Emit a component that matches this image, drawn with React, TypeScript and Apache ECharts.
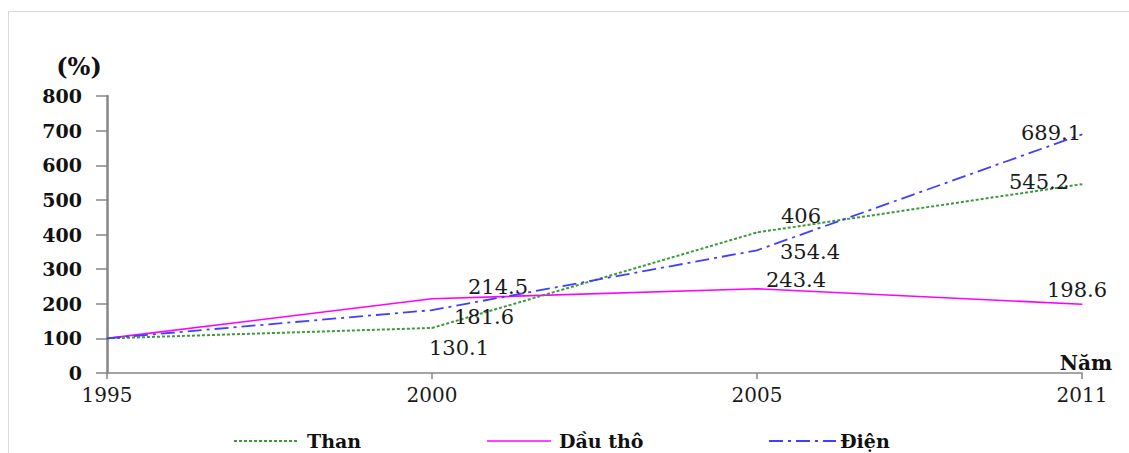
import React, { useEffect, useRef } from "react";
import * as echarts from "echarts";

const years = ["1995", "2000", "2005", "2011"];
const than = [100, 130.1, 406, 545.2];
const dauTho = [100, 214.5, 243.4, 198.6];
const dien = [100, 181.6, 354.4, 689.1];
const yTicks = { min: 0, max: 800, interval: 100 };

// label offsets (layout only)
const thanOffsets = [null, [27, 20], [44, -16], [-43, -2]];
const dauThoOffsets = [null, [66, -12], [39, -9], [-5, -14]];
const dienOffsets = [null, [52, 7], [53, 2], [-31, -1]];

const FONT = "'DejaVu Serif', 'Liberation Serif', serif";

function buildData(values: number[], offsets: (number[] | null)[]) {
  return values.map((v, i) => {
    const off = offsets[i];
    if (!off) return { value: v, label: { show: false } };
    return {
      value: v,
      label: {
        show: true,
        position: "inside",
        offset: off,
        fontFamily: FONT,
        fontSize: 21,
        color: "#1a1a1a",
        formatter: String(v),
      },
    };
  });
}

export default function App() {
  const ref = useRef<HTMLDivElement>(null);
  useEffect(() => {
    if (!ref.current) return;
    const chart = echarts.init(ref.current, undefined, { renderer: "svg" });
    const green = "#3c9a3c";
    const pink = "#ff00ff";
    const blue = "#3f3fff";
    const legendY = 441;
    const legendText = (x: number, t: string) => ({
      type: "text",
      x,
      y: legendY,
      style: {
        text: t,
        fontFamily: FONT,
        fontWeight: "bold",
        fontSize: 19,
        fill: "#111",
        textAlign: "left",
        textVerticalAlign: "middle",
      },
    });
    chart.setOption({
      animation: false,
      backgroundColor: "#ffffff",
      grid: { left: 107, right: 47, top: 96, bottom: 80, containLabel: false },
      xAxis: {
        type: "category",
        data: years,
        boundaryGap: false,
        axisLine: { lineStyle: { color: "#868686", width: 1.5 } },
        axisTick: { show: true, length: 6, lineStyle: { color: "#868686", width: 1.5 } },
        axisLabel: {
          margin: 12,
          fontFamily: FONT,
          fontSize: 20,
          color: "#1a1a1a",
        },
        splitLine: { show: false },
      },
      yAxis: {
        type: "value",
        min: yTicks.min,
        max: yTicks.max,
        interval: yTicks.interval,
        axisLine: { show: true, lineStyle: { color: "#868686", width: 2.5 } },
        axisTick: { show: true, length: 11, lineStyle: { color: "#868686", width: 1.5 } },
        axisLabel: {
          margin: 25,
          fontFamily: FONT,
          fontWeight: "bold",
          fontSize: 19,
          color: "#111",
        },
        splitLine: { show: false },
      },
      series: [
        {
          name: "Than",
          type: "line",
          data: buildData(than, thanOffsets),
          smooth: false,
          symbol: "circle",
          symbolSize: 1,
          itemStyle: { color: green },
          lineStyle: { color: green, width: 2, type: [3, 2] },
          z: 3,
        },
        {
          name: "Dầu thô",
          type: "line",
          data: buildData(dauTho, dauThoOffsets),
          smooth: false,
          symbol: "circle",
          symbolSize: 1,
          itemStyle: { color: pink },
          lineStyle: { color: pink, width: 1.6, type: "solid" },
          z: 2,
        },
        {
          name: "Điện",
          type: "line",
          data: buildData(dien, dienOffsets),
          smooth: false,
          symbol: "circle",
          symbolSize: 1,
          itemStyle: { color: blue },
          lineStyle: { color: blue, width: 1.8, type: [14, 5, 3, 5] },
          z: 4,
        },
      ],
      graphic: [
        {
          type: "rect",
          shape: { x: 8.5, y: 11.5, width: 1200, height: 600 },
          style: { fill: "none", stroke: "#d9d9d9", lineWidth: 1 },
          silent: true,
          z: -10,
        },
        {
          type: "text",
          x: 79,
          y: 66,
          style: {
            text: "(%)",
            fontFamily: FONT,
            fontWeight: "bold",
            fontSize: 24,
            fill: "#111",
            textAlign: "center",
            textVerticalAlign: "middle",
          },
        },
        {
          type: "text",
          x: 1086,
          y: 363,
          style: {
            text: "Năm",
            fontFamily: FONT,
            fontWeight: "bold",
            fontSize: 20,
            fill: "#111",
            textAlign: "center",
            textVerticalAlign: "middle",
          },
        },
        {
          type: "line",
          shape: { x1: 234, y1: legendY, x2: 299, y2: legendY },
          style: { stroke: green, lineWidth: 2, lineDash: [3, 2] },
        },
        legendText(307, "Than"),
        {
          type: "line",
          shape: { x1: 487, y1: legendY, x2: 551, y2: legendY },
          style: { stroke: pink, lineWidth: 1.6 },
        },
        legendText(559, "Dầu thô"),
        {
          type: "line",
          shape: { x1: 769, y1: legendY, x2: 836, y2: legendY },
          style: { stroke: blue, lineWidth: 1.8, lineDash: [14, 5, 3, 5] },
        },
        legendText(840, "Điện"),
      ],
    });
    return () => chart.dispose();
  }, []);
  return (
    <div
      ref={ref}
      style={{ position: "fixed", left: 0, top: 0, width: 1129, height: 453 }}
    />
  );
}
